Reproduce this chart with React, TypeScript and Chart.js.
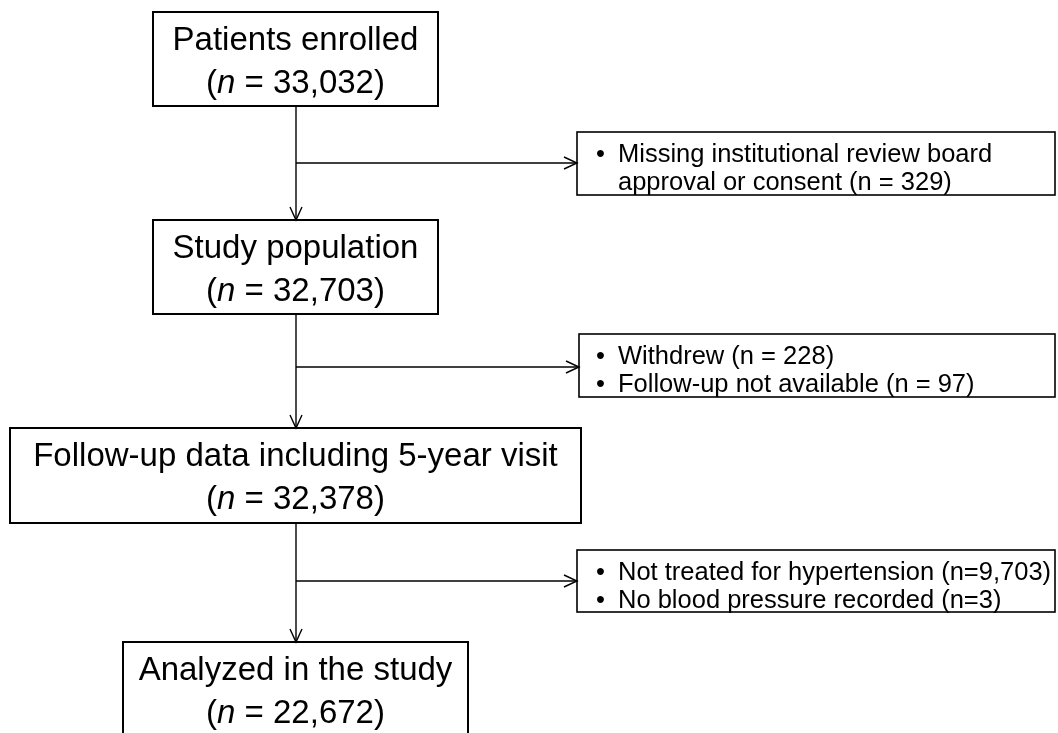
import React, { useEffect, useRef } from "react";
import { Chart, registerables } from "chart.js";

Chart.register(...registerables);

// ---- Data ----
const stepLabels = [
  "Patients enrolled",
  "Study population",
  "Follow-up data including 5-year visit",
  "Analyzed in the study",
];
const stepCounts = ["33,032", "32,703", "32,378", "22,672"];
const exclusionLines: string[][] = [
  ["Missing institutional review board", "approval or consent (n = 329)"],
  ["Withdrew (n = 228)", "Follow-up not available (n = 97)"],
  ["Not treated for hypertension (n=9,703)", "No blood pressure recorded (n=3)"],
];
const exclusionBullets: boolean[][] = [
  [true, false],
  [true, true],
  [true, true],
];

// ---- Layout (in chart value units; 1 unit = 1 px) ----
const W = 1058;
const H = 733;
const spineX = 296;
const mainBoxes = [
  { x0: 153, x1: 438, y0: 12, y1: 106 },
  { x0: 153, x1: 438, y0: 220, y1: 314 },
  { x0: 10, x1: 581, y0: 428, y1: 523 },
  { x0: 123, x1: 468, y0: 642, y1: 750 },
];
const branchY = [163, 367, 581];
const sideBoxes = [
  { x0: 577, x1: 1055, y0: 132, y1: 195 },
  { x0: 579, x1: 1055, y0: 334, y1: 397 },
  { x0: 577, x1: 1055, y0: 550, y1: 612 },
];
const MAIN_SIZE = 33;
const SIDE_SIZE = 25.5;
const MAIN_BASE = [38, 81]; // baseline offsets from box top
const SIDE_BASE = [30, 58];
const SIDE_TEXT_X = 618;
const FONT = '"Liberation Sans", Arial, sans-serif';

const flowPlugin = {
  id: "flow",
  afterDraw(chart: any) {
    const ctx: CanvasRenderingContext2D = chart.ctx;
    const xs = chart.scales.x;
    const ys = chart.scales.y;
    const px = (v: number) => xs.getPixelForValue(v);
    const py = (v: number) => ys.getPixelForValue(v);
    ctx.save();
    ctx.strokeStyle = "#000";
    ctx.fillStyle = "#000";
    ctx.lineCap = "butt";

    const arrowHead = (x: number, y: number, dir: "down" | "right") => {
      ctx.beginPath();
      if (dir === "down") {
        ctx.moveTo(x - 6, y - 13);
        ctx.lineTo(x, y);
        ctx.lineTo(x + 6, y - 13);
      } else {
        ctx.moveTo(x - 13, y - 6);
        ctx.lineTo(x, y);
        ctx.lineTo(x - 13, y + 6);
      }
      ctx.stroke();
    };

    // connectors
    ctx.lineWidth = 1.4;
    for (let i = 0; i < mainBoxes.length - 1; i++) {
      const top = py(mainBoxes[i].y1);
      const bot = py(mainBoxes[i + 1].y0);
      const x = px(spineX);
      ctx.beginPath();
      ctx.moveTo(x, top);
      ctx.lineTo(x, bot);
      ctx.stroke();
      arrowHead(x, bot, "down");
      const by = py(branchY[i]);
      const bx = px(sideBoxes[i].x0);
      ctx.beginPath();
      ctx.moveTo(x, by);
      ctx.lineTo(bx, by);
      ctx.stroke();
      arrowHead(bx, by, "right");
    }

    // main boxes
    mainBoxes.forEach((b, i) => {
      ctx.lineWidth = 2;
      ctx.strokeRect(px(b.x0), py(b.y0), px(b.x1) - px(b.x0), py(b.y1) - py(b.y0));
      const cx = (px(b.x0) + px(b.x1)) / 2;
      ctx.textBaseline = "alphabetic";
      ctx.textAlign = "left";
      ctx.font = `${MAIN_SIZE}px ${FONT}`;
      const l1 = stepLabels[i];
      const w1 = ctx.measureText(l1).width;
      ctx.fillText(l1, cx - w1 / 2, py(b.y0 + MAIN_BASE[0]));
      const parts = [
        { t: "(", it: false },
        { t: "n", it: true },
        { t: " = " + stepCounts[i] + ")", it: false },
      ];
      let total = 0;
      parts.forEach((p) => {
        ctx.font = `${p.it ? "italic " : ""}${MAIN_SIZE}px ${FONT}`;
        total += ctx.measureText(p.t).width;
      });
      let x = cx - total / 2;
      parts.forEach((p) => {
        ctx.font = `${p.it ? "italic " : ""}${MAIN_SIZE}px ${FONT}`;
        ctx.fillText(p.t, x, py(b.y0 + MAIN_BASE[1]));
        x += ctx.measureText(p.t).width;
      });
    });

    // side boxes
    sideBoxes.forEach((b, i) => {
      ctx.lineWidth = 1.6;
      ctx.strokeRect(px(b.x0), py(b.y0), px(b.x1) - px(b.x0), py(b.y1) - py(b.y0));
      ctx.font = `${SIDE_SIZE}px ${FONT}`;
      ctx.textBaseline = "alphabetic";
      ctx.textAlign = "left";
      exclusionLines[i].forEach((line, j) => {
        const y = py(b.y0 + SIDE_BASE[j]);
        if (exclusionBullets[i][j]) {
          ctx.fillText("•", px(SIDE_TEXT_X - 22), y);
        }
        ctx.fillText(line, px(SIDE_TEXT_X), y);
      });
    });
    ctx.restore();
  },
};

export default function App() {
  const ref = useRef<HTMLCanvasElement>(null);
  useEffect(() => {
    document.body.style.margin = "0";
    document.body.style.background = "#fff";
    const canvas = ref.current!;
    const chart = new Chart(canvas, {
      type: "scatter",
      data: { datasets: [{ data: [], pointRadius: 0 }] },
      options: {
        animation: false,
        responsive: false,
        devicePixelRatio: 1,
        layout: { padding: 0 },
        plugins: { legend: { display: false }, tooltip: { enabled: false } },
        scales: {
          x: { type: "linear", min: 0, max: W, display: false },
          y: { type: "linear", min: 0, max: H, reverse: true, display: false },
        },
      },
      plugins: [flowPlugin],
    });
    return () => chart.destroy();
  }, []);
  return (
    <canvas
      ref={ref}
      width={W}
      height={H}
      style={{ display: "block", width: W, height: H, background: "#fff" }}
    />
  );
}
